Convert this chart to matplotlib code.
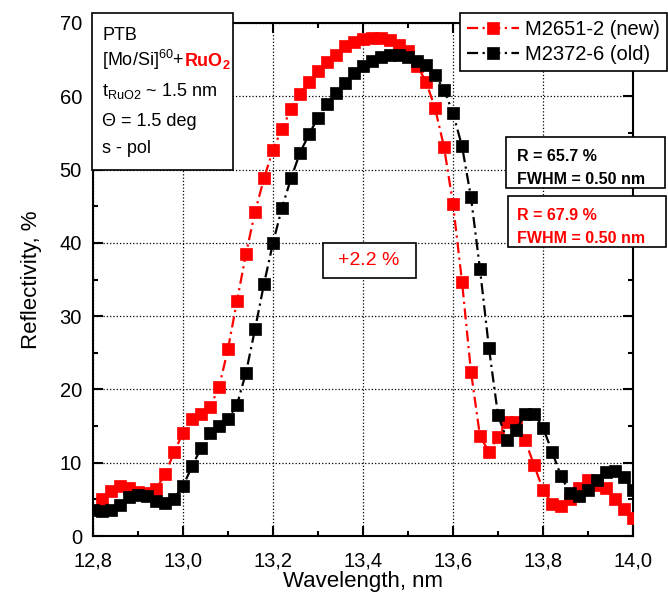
import matplotlib
matplotlib.use('Agg')
from matplotlib import pyplot as plt
from matplotlib.patches import Rectangle
from matplotlib.ticker import MultipleLocator, FuncFormatter

# 字体设置
plt.rcParams['font.family'] = ['Liberation Sans', 'DejaVu Sans']
plt.rcParams['mathtext.fontset'] = 'custom'
plt.rcParams['mathtext.rm'] = 'Liberation Sans'
plt.rcParams['mathtext.bf'] = 'Liberation Sans:bold'
plt.rcParams['mathtext.default'] = 'regular'

# 数据: M2651-2 (new)
wl_new = [12.82, 12.84, 12.86, 12.88, 12.90, 12.92, 12.94, 12.96, 12.98, 13.00,
          13.02, 13.04, 13.06, 13.08, 13.10, 13.12, 13.14, 13.16, 13.18, 13.20,
          13.22, 13.24, 13.26, 13.28, 13.30, 13.32, 13.34, 13.36, 13.38, 13.40,
          13.42, 13.44, 13.46, 13.48, 13.50, 13.52, 13.54, 13.56, 13.58, 13.60,
          13.62, 13.64, 13.66, 13.68, 13.70, 13.72, 13.74, 13.76, 13.78, 13.80,
          13.82, 13.84, 13.86, 13.88, 13.90, 13.92, 13.94, 13.96, 13.98, 14.00]
r_new = [5.0, 6.2, 6.8, 6.6, 6.0, 5.8, 6.4, 8.4, 11.4, 14.1,
         15.9, 16.7, 17.6, 20.3, 25.5, 32.1, 38.5, 44.2, 48.8, 52.7,
         55.6, 58.2, 60.3, 61.9, 63.4, 64.7, 65.7, 66.8, 67.4, 67.8,
         68.0, 68.0, 67.7, 67.0, 66.2, 64.2, 62.0, 58.4, 53.1, 45.3,
         34.7, 22.4, 13.6, 11.5, 13.5, 15.6, 15.6, 13.1, 9.7, 6.3,
         4.4, 4.1, 5.1, 6.6, 7.6, 7.0, 6.5, 5.1, 3.7, 2.4]

# 数据: M2372-6 (old)
wl_old = [12.80, 12.82, 12.84, 12.86, 12.88, 12.90, 12.92, 12.94, 12.96, 12.98,
          13.00, 13.02, 13.04, 13.06, 13.08, 13.10, 13.12, 13.14, 13.16, 13.18,
          13.20, 13.22, 13.24, 13.26, 13.28, 13.30, 13.32, 13.34, 13.36, 13.38,
          13.40, 13.42, 13.44, 13.46, 13.48, 13.50, 13.52, 13.54, 13.56, 13.58,
          13.60, 13.62, 13.64, 13.66, 13.68, 13.70, 13.72, 13.74, 13.76, 13.78,
          13.80, 13.82, 13.84, 13.86, 13.88, 13.90, 13.92, 13.94, 13.96, 13.98,
          14.00]
r_old = [3.5, 3.4, 3.5, 4.2, 5.3, 5.6, 5.4, 4.8, 4.5, 5.1,
         6.8, 9.5, 12.0, 14.0, 15.0, 16.0, 17.9, 22.3, 28.2, 34.4,
         40.0, 44.8, 48.8, 52.3, 54.8, 57.1, 58.9, 60.5, 61.8, 63.2,
         64.1, 64.8, 65.3, 65.6, 65.6, 65.3, 64.8, 64.3, 62.9, 60.9,
         57.7, 53.2, 46.2, 36.4, 25.6, 16.5, 13.1, 14.5, 16.6, 16.7,
         14.8, 11.5, 8.2, 5.8, 5.5, 6.3, 7.6, 8.8, 8.9, 8.0,
         6.3]

labels = ['M2651-2 (new)', 'M2372-6 (old)']

W, H = 668, 606


def fx(x):
    return x / W


def fy(y):
    return 1 - y / H


fig = plt.figure(figsize=(W / 100, H / 100), dpi=100)
ax = fig.add_axes([fx(93), fy(536), 540 / W, 513 / H])

dash = (0, (5, 2, 1, 2))
ax.plot(wl_new, r_new, color='red', marker='s', ms=9.3, mew=0.5, mec='red',
        lw=1.6, ls=dash, label=labels[0], zorder=3)
ax.plot(wl_old, r_old, color='black', marker='s', ms=9.3, mew=0.5, mec='black',
        lw=1.6, ls=dash, label=labels[1], zorder=4)

ax.set_xlim(12.8, 14.0)
ax.set_ylim(0, 70)
ax.xaxis.set_major_locator(MultipleLocator(0.2))
ax.xaxis.set_minor_locator(MultipleLocator(0.1))
ax.yaxis.set_major_locator(MultipleLocator(10))
ax.yaxis.set_minor_locator(MultipleLocator(5))
ax.xaxis.set_major_formatter(FuncFormatter(lambda v, p: f'{v:.1f}'.replace('.', ',')))

ax.tick_params(which='both', direction='in', top=True, right=True, width=1.5,
               labelsize=14.5)
ax.tick_params(which='major', length=7, pad=8)
ax.tick_params(axis='x', which='major', pad=11)
ax.tick_params(which='minor', length=3.5)
for sp in ax.spines.values():
    sp.set_linewidth(1.5)

# 网格
ax.grid(True, which='major', linestyle=':', color='black', linewidth=0.9)
ax.set_axisbelow(True)

fig.text(fx(363), fy(582), 'Wavelength, nm', fontsize=16, ha='center', va='center')
fig.text(fx(32), fy(280), 'Reflectivity, %', fontsize=16, ha='center', va='center',
         rotation=90)

# 图例
leg = ax.legend(loc='upper right', bbox_to_anchor=(fx(667), fy(13)),
                bbox_transform=fig.transFigure, fontsize=14.5, frameon=True,
                fancybox=False, edgecolor='black', framealpha=1, borderaxespad=0,
                handlelength=2.6, labelspacing=0.3, borderpad=0.35,
                handletextpad=0.3)
leg.get_frame().set_linewidth(1.2)
leg.set_zorder(10)


def box(x0, y0, x1, y1):
    fig.add_artist(Rectangle((fx(x0), fy(y1)), (x1 - x0) / W, (y1 - y0) / H,
                             transform=fig.transFigure, facecolor='white',
                             edgecolor='black', lw=1.2, zorder=5))


# 左上角说明框
box(92, 13, 233, 170)
kw = dict(fontsize=13, ha='left', va='baseline', zorder=6)
fig.text(fx(102), fy(40), 'PTB', **kw)
t2 = fig.text(fx(102), fy(66), '[Mo/Si]$^{60}$+', **kw)
fig.text(fx(102), fy(96), 't$_{RuO2}$ ~ 1.5 nm', **kw)
fig.text(fx(102), fy(126), '\u0398 = 1.5 deg', **kw)
fig.text(fx(102), fy(153), 's - pol', **kw)
fig.canvas.draw()
bb = t2.get_window_extent()
fig.text(bb.x1 / W, fy(66), '$\\mathbf{RuO_2}$', color='red', **kw)

# 反射率框
box(506, 137, 665, 188)
box(508, 196, 666, 247)
kb = dict(fontsize=11.5, fontweight='bold', ha='left', va='baseline', zorder=6)
fig.text(fx(517), fy(161), 'R = 65.7 %', color='black', **kb)
fig.text(fx(517), fy(184), 'FWHM = 0.50 nm', color='black', **kb)
fig.text(fx(517), fy(220), 'R = 67.9 %', color='red', **kb)
fig.text(fx(517), fy(243), 'FWHM = 0.50 nm', color='red', **kb)

# 差值
box(323, 243, 416, 278)
fig.text(fx(369), fy(261), '+2.2 %', color='red', fontsize=14, ha='center',
         va='center', zorder=6)

fig.savefig('out.png', dpi=100)
